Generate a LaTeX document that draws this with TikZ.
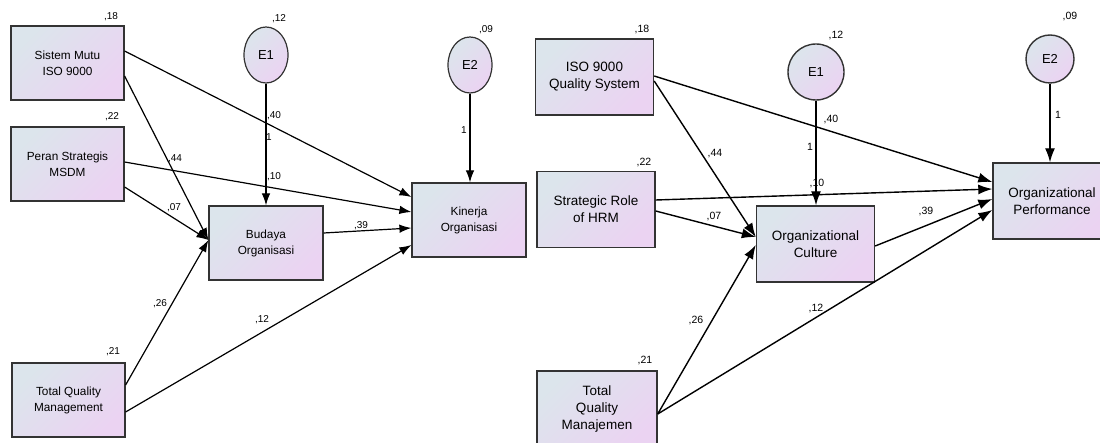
\documentclass[tikz,border=0pt]{standalone}
\usepackage{fontspec}
\setmainfont{Liberation Sans}
\usetikzlibrary{arrows.meta,shapes.geometric}
\definecolor{boxA}{HTML}{DCE5EC}
\definecolor{boxB}{HTML}{EBD3F2}

\begin{document}
\begin{tikzpicture}[x=1pt,y=-1pt]
		\tikzset{varA/.style = {shape=rectangle, draw=black!80, line width=1.2pt, left color=boxA, right color=boxB, shading angle=45, align=center, inner sep=1pt, minimum width=113pt, minimum height=74pt, font=\fontsize{11.8}{16}\selectfont}}
		\tikzset{varB/.style = {varA, line width=1.4pt, minimum width=118pt, minimum height=76pt, font=\fontsize{13.5}{17}\selectfont}}
		\tikzset{errA/.style = {shape=ellipse, draw=black!80, line width=1.2pt, left color=boxA, right color=boxB, shading angle=45, inner sep=0pt, minimum width=44pt, minimum height=56pt, font=\fontsize{13}{14}\selectfont}}
		\tikzset{errB/.style = {errA, shape=circle, line width=1.4pt}}
		\tikzset{est/.style = {inner sep=0pt, font=\fontsize{10}{11}\selectfont}}
		\tikzset{arrA/.style = {-{Latex[length=12pt,width=8.5pt]}, line width=1.2pt}}
		\tikzset{arrB/.style = {-{Latex[length=14pt,width=10pt]}, line width=1.4pt}}

		\useasboundingbox (0,0) rectangle (1100,443);
		\fill[white] (0,0) rectangle (1100,443);

		% left model
		\node[varA] (A_1) at (67.5,63) {Sistem Mutu\\ISO 9000};
		\node[varA] (A_2) at (67.5,164) {Peran Strategis\\MSDM};
		\node[varA] (A_3) at (68.5,400) {Total Quality\\Management};
		\node[varA, minimum width=114pt] (A_4) at (266,243) {Budaya\\Organisasi};
		\node[varA, minimum width=114pt] (A_5) at (469,220) {Kinerja\\Organisasi};
		\node[errA] (A_6) at (266,55) {E1};
		\node[errA] (A_7) at (470,65) {E2};

		\node[est] (A_v1) at (111,17) {,18};
		\node[est] (A_v2) at (112,117) {,22};
		\node[est] (A_v3) at (113,352) {,21};
		\node[est] (A_v6) at (279,19) {,12};
		\node[est] (A_v7) at (486,30) {,09};

		\draw[arrA] ([yshift=12pt]A_1.east) -- ([yshift=23pt]A_5.west);
		\draw[arrA] ([yshift=-13pt]A_1.east) -- ([yshift=3pt]A_4.west);
		\draw[arrA] ([yshift=2pt]A_2.east) -- ([yshift=8pt]A_5.west);
		\draw[arrA] ([yshift=-23pt]A_2.east) -- ([yshift=3pt]A_4.west);
		\draw[arrA] ([yshift=15pt]A_3.east) -- ([yshift=3pt]A_4.west);
		\draw[arrA] ([yshift=-12pt]A_3.east) -- ([yshift=-25pt]A_5.west);
		\draw[arrA] ([yshift=10pt]A_4.east) -- ([yshift=-8pt]A_5.west);
		\draw[arrA] (A_6.south) -- (A_6.south |- A_4.north);
		\draw[arrA] (A_7.south) -- (A_7.south |- A_5.north);

		\node[est] (A_p1) at (274,116) {,40};
		\node[est] (A_p2) at (175,159) {,44};
		\node[est] (A_p3) at (274,177) {,10};
		\node[est] (A_p4) at (174,208) {,07};
		\node[est] (A_p5) at (160,304) {,26};
		\node[est] (A_p6) at (262,320) {,12};
		\node[est] (A_p7) at (361,226) {,39};
		\node[est] (A_p8) at (269,137) {1};
		\node[est] (A_p9) at (464,130) {1};

		% right model
		\node[varB] (B_1) at (594.5,77) {ISO 9000\\Quality System};
		\node[varB] (B_2) at (596,209.5) {Strategic Role\\of HRM};
		\node[varB, minimum width=120pt] (B_3) at (597,409) {Total\\Quality\\Manajemen};
		\node[varB] (B_4) at (815.5,244) {Organizational\\Culture};
		\node[varB] (B_5) at (1052,201) {Organizational\\Performance};
		\node[errB, minimum size=56pt] (B_6) at (816,72) {E1};
		\node[errB, minimum size=48pt] (B_7) at (1050,59) {E2};

		\node[est, font=\fontsize{10.5}{11}\selectfont] (B_v1) at (642,30) {,18};
		\node[est, font=\fontsize{10.5}{11}\selectfont] (B_v2) at (644,163) {,22};
		\node[est, font=\fontsize{10.5}{11}\selectfont] (B_v3) at (645,361) {,21};
		\node[est, font=\fontsize{10.5}{11}\selectfont] (B_v6) at (836,36) {,12};
		\node[est, font=\fontsize{10.5}{11}\selectfont] (B_v7) at (1070,17) {,09};

		\draw[arrB] ([yshift=1pt]B_1.east) -- ([yshift=19pt]B_5.west);
		\draw[arrB] ([yshift=-4pt]B_1.east) -- ([yshift=7pt]B_4.west);
		\draw[arrB] ([yshift=9.5pt]B_2.east) -- ([yshift=12pt]B_5.west);
		\draw[arrB] ([yshift=-1.5pt]B_2.east) -- ([yshift=7pt]B_4.west);
		\draw[arrB] ([yshift=-5pt]B_3.east) -- ([yshift=-1pt]B_4.west);
		\draw[arrB] ([yshift=-5pt]B_3.east) -- ([yshift=-9pt]B_5.west);
		\draw[arrB] ([yshift=-2pt]B_4.east) -- ([yshift=2pt]B_5.west);
		\draw[arrB] (B_6.south) -- (B_6.south |- B_4.north);
		\draw[arrB] (B_7.south) -- (B_7.south |- B_5.north);

		\node[est, font=\fontsize{10.5}{11}\selectfont] (B_p1) at (831,120) {,40};
		\node[est, font=\fontsize{10.5}{11}\selectfont] (B_p2) at (715,154) {,44};
		\node[est, font=\fontsize{10.5}{11}\selectfont] (B_p3) at (817,184) {,10};
		\node[est, font=\fontsize{10.5}{11}\selectfont] (B_p4) at (714,217) {,07};
		\node[est, font=\fontsize{10.5}{11}\selectfont] (B_p5) at (696,321) {,26};
		\node[est, font=\fontsize{10.5}{11}\selectfont] (B_p6) at (816,309) {,12};
		\node[est, font=\fontsize{10.5}{11}\selectfont] (B_p7) at (926,212) {,39};
		\node[est, font=\fontsize{10.5}{11}\selectfont] (B_p8) at (810,147) {1};
		\node[est, font=\fontsize{10.5}{11}\selectfont] (B_p9) at (1058,115) {1};

	\end{tikzpicture}
\end{document}
